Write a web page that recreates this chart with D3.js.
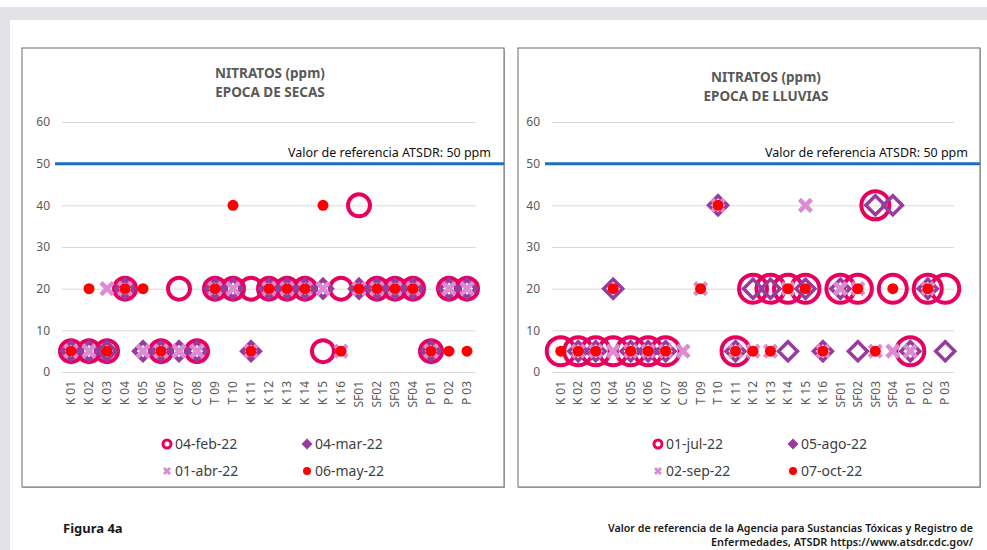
<!DOCTYPE html>
<html>
<head>
<meta charset="utf-8">
<script src="https://cdn.jsdelivr.net/npm/d3@7"></script>
<style>
  html, body { margin: 0; padding: 0; background: #fff; }
  svg { display: block; font-family: "Noto Sans", "Open Sans", sans-serif; }
</style>
</head>
<body>
<svg id="fig" width="987" height="550"></svg>
<script>
// Sampling points (shared by both seasons)
const categories = ["K 01","K 02","K 03","K 04","K 05","K 06","K 07","C 08","T 09","T 10",
  "K 11","K 12","K 13","K 14","K 15","K 16","SF01","SF02","SF03","SF04","P 01","P 02","P 03"];
const yTicks = [0, 10, 20, 30, 40, 50, 60];
const referenceValue = 50;
const referenceLabel = "Valor de referencia ATSDR: 50 ppm";
const chartTitle = "NITRATOS (ppm)";

// Dry season (ppm)
const secasTitle = "EPOCA DE SECAS";
const secasNames = ["04-feb-22", "04-mar-22", "01-abr-22", "06-may-22"];
const secasFeb04 = [5,5,5,20,null,5,20,5,20,20,20,20,20,20,5,20,40,20,20,20,5,20,20];
const secasMar04 = [5,5,5,20,5,5,5,5,20,20,5,20,20,20,20,null,20,20,20,20,5,20,20];
const secasAbr01 = [5,5,20,20,5,5,5,5,20,20,5,20,20,20,20,5,20,20,20,20,5,20,20];
const secasMay06 = [5,20,5,20,20,5,null,null,20,40,5,20,20,20,40,5,20,20,20,20,5,5,5];

// Rainy season (ppm)
const lluviasTitle = "EPOCA DE LLUVIAS";
const lluviasNames = ["01-jul-22", "05-ago-22", "02-sep-22", "07-oct-22"];
const lluviasJul01 = [5,5,5,5,5,5,5,null,null,null,5,20,20,20,20,null,20,20,40,20,5,20,20];
const lluviasAgo05 = [null,5,5,20,5,5,5,null,null,40,5,20,20,5,20,5,20,5,40,40,5,20,5];
const lluviasSep02 = [null,5,5,5,5,5,5,5,20,40,5,5,5,20,40,5,20,20,5,5,5,20,null];
const lluviasOct07 = [5,5,5,20,5,5,5,null,20,40,5,5,5,20,20,5,null,20,5,20,null,20,null];

const svg = d3.select("#fig");

// page background: grey frame strips
svg.append("rect").attr("x", 0).attr("y", 0).attr("width", 987).attr("height", 550).attr("fill", "#fff");
svg.append("rect").attr("x", 0).attr("y", 7).attr("width", 987).attr("height", 13).attr("fill", "#e2e3e7");
svg.append("rect").attr("x", 0).attr("y", 7).attr("width", 10).attr("height", 543).attr("fill", "#e2e3e7");

const COLORS = { ring: "#e8005f", diamond: "#993b9e", cross: "#dc8ad3", dot: "#ff0000" };
const kinds = ["ring", "diamond", "cross", "dot"];

function diamondPath(h) { return `M0,${-h}L${h},0L0,${h}L${-h},0Z`; }
function crossPath(a) { return `M${-a},${-a}L${a},${a}M${-a},${a}L${a},${-a}`; }

function drawMarker(g, kind, cx, cy, s) {
  if (kind === "ring") {
    g.append("circle").attr("cx", cx).attr("cy", cy).attr("r", s.ringR)
      .attr("fill", "none").attr("stroke", COLORS.ring).attr("stroke-width", s.ringW);
  } else if (kind === "diamond") {
    g.append("path").attr("d", diamondPath(s.diaH)).attr("transform", `translate(${cx},${cy})`)
      .attr("fill", "none").attr("stroke", COLORS.diamond).attr("stroke-width", s.diaW)
      .attr("stroke-linejoin", "miter");
  } else if (kind === "cross") {
    g.append("path").attr("d", crossPath(s.crossA)).attr("transform", `translate(${cx},${cy})`)
      .attr("fill", "none").attr("stroke", COLORS.cross).attr("stroke-width", s.crossW);
  } else {
    g.append("circle").attr("cx", cx).attr("cy", cy).attr("r", s.dotR).attr("fill", COLORS.dot);
  }
}

function drawPanel(cfg) {
  const g = svg.append("g");
  // frame with a soft lower-right shadow
  g.append("rect").attr("x", cfg.box[0] + 1).attr("y", cfg.box[1] + 1)
    .attr("width", cfg.box[2] - cfg.box[0]).attr("height", cfg.box[3] - cfg.box[1])
    .attr("fill", "#bdbdbd");
  g.append("rect").attr("x", cfg.box[0]).attr("y", cfg.box[1])
    .attr("width", cfg.box[2] - cfg.box[0]).attr("height", cfg.box[3] - cfg.box[1])
    .attr("fill", "#fff").attr("stroke", "#6b6b6b").attr("stroke-width", 1);

  const x = d3.scaleBand().domain(categories).range(cfg.xRange).paddingInner(0).paddingOuter(0);
  const y = d3.scaleLinear().domain([0, 60]).range([372, 122]);
  const cx = c => x(c) + x.bandwidth() / 2;

  // title
  const t = g.append("text").attr("x", cfg.titleX).attr("text-anchor", "middle")
    .attr("fill", "#595959").attr("font-size", 13.5).attr("font-weight", 700);
  t.append("tspan").attr("x", cfg.titleX).attr("y", cfg.titleY).text(chartTitle);
  t.append("tspan").attr("x", cfg.titleX).attr("y", cfg.titleY + 19).text(cfg.subtitle);

  // y axis with gridlines
  const yAxis = d3.axisLeft(y).tickValues(yTicks).tickSize(-(cfg.xRange[1] - cfg.xRange[0])).tickPadding(12);
  const ya = g.append("g").attr("transform", `translate(${cfg.xRange[0]},0)`).call(yAxis);
  ya.select(".domain").remove();
  ya.selectAll(".tick line").attr("stroke", "#d9d9d9").attr("stroke-width", 1);
  ya.selectAll(".tick text").attr("fill", "#595959").attr("font-size", 12)
    .attr("font-family", "'Noto Sans', sans-serif");

  // x axis labels (rotated)
  const xAxis = d3.axisBottom(x).tickSize(0).tickPadding(0);
  const xa = g.append("g").attr("transform", `translate(0,${y(0)})`).call(xAxis);
  xa.select(".domain").remove();
  xa.selectAll(".tick text")
    .attr("transform", "rotate(-90)")
    .attr("text-anchor", "end").attr("dy", "0.35em").attr("x", -9).attr("y", 0)
    .attr("fill", "#595959").attr("font-size", 12)
    .attr("font-family", "'Noto Sans', sans-serif");

  // reference line
  g.append("line").attr("x1", cfg.xRange[0] - 7).attr("x2", cfg.box[2])
    .attr("y1", y(referenceValue)).attr("y2", y(referenceValue))
    .attr("stroke", "#1b6ec2").attr("stroke-width", 3);
  g.append("text").attr("x", cfg.refLabelX).attr("y", y(referenceValue) - 7)
    .attr("text-anchor", "end").attr("font-size", 12.5).attr("fill", "#111").text(referenceLabel);

  // markers, drawn series by series
  const mg = g.append("g");
  cfg.series.forEach((vals, si) => {
    vals.forEach((v, i) => {
      if (v == null) return;
      drawMarker(mg, kinds[si], cx(categories[i]), y(v), cfg.size);
    });
  });

  // legend
  const legSize = { ringR: 4, ringW: 3, diaH: 5.5, diaW: 3.5, crossA: 3, crossW: 3, dotR: 4 };
  cfg.names.forEach((name, si) => {
    const lx = cfg.legendX[si % 2], ly = si < 2 ? 444 : 471;
    if (kinds[si] === "diamond") {
      g.append("path").attr("d", diamondPath(5.5)).attr("transform", `translate(${lx},${ly})`)
        .attr("fill", COLORS.diamond);
    } else {
      drawMarker(g, kinds[si], lx, ly, legSize);
    }
    g.append("text").attr("x", lx + 8).attr("y", ly + 5).attr("font-size", 14)
      .attr("fill", "#404040").text(name);
  });
}

drawPanel({
  box: [22, 48, 504, 487], xRange: [62, 476], titleX: 270, titleY: 78, subtitle: secasTitle,
  refLabelX: 491, legendX: [167, 307], names: secasNames,
  series: [secasFeb04, secasMar04, secasAbr01, secasMay06],
  size: { ringR: 11, ringW: 4, diaH: 9, diaW: 4, crossA: 6, crossW: 4.5, dotR: 5.5 }
});
drawPanel({
  box: [518, 48, 980, 487], xRange: [552, 954], titleX: 766, titleY: 82, subtitle: lluviasTitle,
  refLabelX: 968, legendX: [658, 793], names: lluviasNames,
  series: [lluviasJul01, lluviasAgo05, lluviasSep02, lluviasOct07],
  size: { ringR: 14, ringW: 4, diaH: 9.5, diaW: 3.5, crossA: 6, crossW: 4.5, dotR: 5.5 }
});

// footer
svg.append("text").attr("x", 63).attr("y", 533).attr("font-size", 13).attr("font-weight", 700)
  .attr("fill", "#1a1a1a").text("Figura 4a");
const foot = svg.append("text").attr("text-anchor", "end").attr("font-size", 10.5)
  .attr("font-weight", 600).attr("fill", "#1a1a1a");
foot.append("tspan").attr("x", 973).attr("y", 532)
  .attr("textLength", 365).attr("lengthAdjust", "spacingAndGlyphs")
  .text("Valor de referencia de la Agencia para Sustancias Tóxicas y Registro de");
foot.append("tspan").attr("x", 973).attr("y", 546)
  .attr("textLength", 262).attr("lengthAdjust", "spacingAndGlyphs")
  .text("Enfermedades, ATSDR https://www.atsdr.cdc.gov/");
</script>
</body>
</html>
